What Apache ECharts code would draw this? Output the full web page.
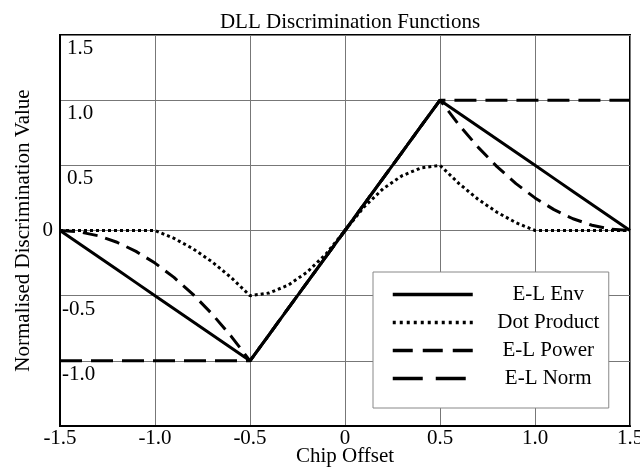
<!DOCTYPE html>
<html>
<head>
<meta charset="utf-8">
<script src="https://cdn.jsdelivr.net/npm/echarts@6/dist/echarts.min.js"></script>
<style>
  html, body { margin: 0; padding: 0; background: #fff; }
  #chart { width: 640px; height: 473px; }
</style>
</head>
<body>
<div id="chart"></div>
<script>
// Chip offset samples (chips)
const offsets = [-1.5, -1.4, -1.3, -1.2, -1.1, -1.0, -0.9, -0.8, -0.7, -0.6, -0.5,
                 -0.4, -0.3, -0.2, -0.1, 0.0, 0.1, 0.2, 0.3, 0.4, 0.5,
                 0.6, 0.7, 0.8, 0.9, 1.0, 1.1, 1.2, 1.3, 1.4, 1.5];

// Normalised discriminator outputs at each offset
const elEnv = [0, -0.1, -0.2, -0.3, -0.4, -0.5, -0.6, -0.7, -0.8, -0.9, -1.0,
               -0.8, -0.6, -0.4, -0.2, 0, 0.2, 0.4, 0.6, 0.8, 1.0,
               0.9, 0.8, 0.7, 0.6, 0.5, 0.4, 0.3, 0.2, 0.1, 0];
const dotProduct = [0, 0, 0, 0, 0, 0, -0.06, -0.14, -0.24, -0.36, -0.5,
                    -0.48, -0.42, -0.32, -0.18, 0, 0.18, 0.32, 0.42, 0.48, 0.5,
                    0.36, 0.24, 0.14, 0.06, 0, 0, 0, 0, 0, 0];
const elPower = [0, -0.01, -0.04, -0.09, -0.16, -0.25, -0.36, -0.49, -0.64, -0.81, -1.0,
                 -0.8, -0.6, -0.4, -0.2, 0, 0.2, 0.4, 0.6, 0.8, 1.0,
                 0.81, 0.64, 0.49, 0.36, 0.25, 0.16, 0.09, 0.04, 0.01, 0];
const elNorm = [-1, -1, -1, -1, -1, -1, -1, -1, -1, -1, -1,
                -0.8, -0.6, -0.4, -0.2, 0, 0.2, 0.4, 0.6, 0.8, 1,
                1, 1, 1, 1, 1, 1, 1, 1, 1, 1];

const seriesNames = ['E-L Env', 'Dot Product', 'E-L Power', 'E-L Norm'];

// Dash patterns: plot lines and the (longer) legend samples
const plotDash = ['solid', [3, 3], [15, 8], [22, 9]];
const legendDash = ['solid', [3, 4], [20, 10], [30, 13]];

const FONT = "'Liberation Serif', 'DejaVu Serif', serif";

function pairs(ys) {
  return offsets.map((x, i) => [x, ys[i]]);
}
function fmt(v) {
  return v === 0 ? '0' : v.toFixed(1);
}

const seriesData = [elEnv, dotProduct, elPower, elNorm];

const chart = echarts.init(document.getElementById('chart'), null, { renderer: 'canvas' });

chart.setOption({
  animation: false,
  backgroundColor: '#fff',
  title: {
    text: 'DLL Discrimination Functions',
    left: 345,
    top: 7,
    textAlign: 'center',
    textStyle: { fontFamily: FONT, fontSize: 21, fontWeight: 'normal', color: '#000' }
  },
  grid: {
    left: 60, right: 10, top: 35, bottom: 47,
    containLabel: false,
    outerBoundsMode: 'none',
    show: true, borderColor: '#000', borderWidth: 2, backgroundColor: 'transparent'
  },
  legend: {
    data: seriesNames.map((name, i) => ({
      name: name,
      lineStyle: { color: '#000', width: 3.5, type: legendDash[i] }
    })),
    orient: 'vertical',
    left: 373,
    top: 272,
    padding: [12, 0, 19, 18],
    itemWidth: 80,
    itemHeight: 14,
    itemGap: 7,
    backgroundColor: '#fff',
    borderColor: '#888',
    borderWidth: 1,
    borderRadius: 0,
    itemStyle: { opacity: 0 },
    formatter: name => '{t|' + name + '}',
    textStyle: {
      fontFamily: FONT, fontSize: 21, color: '#000',
      rich: { t: { width: 121, padding: [0, 0, 0, 10], align: 'center', lineHeight: 21, fontFamily: FONT, fontSize: 21, color: '#000' } }
    }
  },
  xAxis: {
    type: 'value',
    min: -1.5, max: 1.5, interval: 0.5,
    name: 'Chip Offset',
    nameLocation: 'middle',
    nameGap: 20,
    nameMoveOverlap: false,
    nameTextStyle: { fontFamily: FONT, fontSize: 21, color: '#000', verticalAlign: 'top' },
    axisLine: { show: true, onZero: false, lineStyle: { color: '#000', width: 2 } },
    axisTick: { show: false },
    axisLabel: { fontFamily: FONT, fontSize: 21, color: '#000', margin: 2, formatter: fmt },
    splitLine: { show: true, lineStyle: { color: '#777', width: 1 } }
  },
  yAxis: [
    {
      type: 'value',
      min: -1.5, max: 1.5, interval: 0.5,
      name: 'Normalised Discrimination Value',
      nameLocation: 'middle',
      nameGap: 26,
      nameMoveOverlap: false,
      nameTextStyle: { fontFamily: FONT, fontSize: 21, color: '#000' },
      axisLine: { show: true, onZero: false, lineStyle: { color: '#000', width: 2 } },
      axisTick: { show: false },
      axisLabel: {
        inside: true,
        margin: 2,
        verticalAlign: 'top',
        fontFamily: FONT, fontSize: 21, color: '#000',
        formatter: v => {
          if (v === 0 || v === -1.5) return '';
          return v > 0 ? '{p|' + fmt(v) + '}' : '{n|' + fmt(v) + '}';
        },
        rich: {
          p: { padding: [3, 0, 0, 5], fontFamily: FONT, fontSize: 21, color: '#000' },
          n: { padding: [3, 0, 0, 0], fontFamily: FONT, fontSize: 21, color: '#000' }
        }
      },
      splitLine: { show: true, lineStyle: { color: '#777', width: 1 } }
    },
    {
      type: 'value',
      position: 'left',
      min: -1.5, max: 1.5, interval: 0.5,
      axisLine: { show: false },
      axisTick: { show: false },
      splitLine: { show: false },
      axisLabel: {
        margin: 7,
        fontFamily: FONT, fontSize: 21, color: '#000',
        formatter: v => (v === 0 ? '0' : '')
      }
    }
  ],
  series: seriesNames.map((name, i) => ({
    name: name,
    type: 'line',
    data: pairs(seriesData[i]),
    symbol: 'none',
    lineStyle: { color: '#000', width: 3, type: plotDash[i] },
    itemStyle: { color: '#000' }
  }))
});
</script>
</body>
</html>
